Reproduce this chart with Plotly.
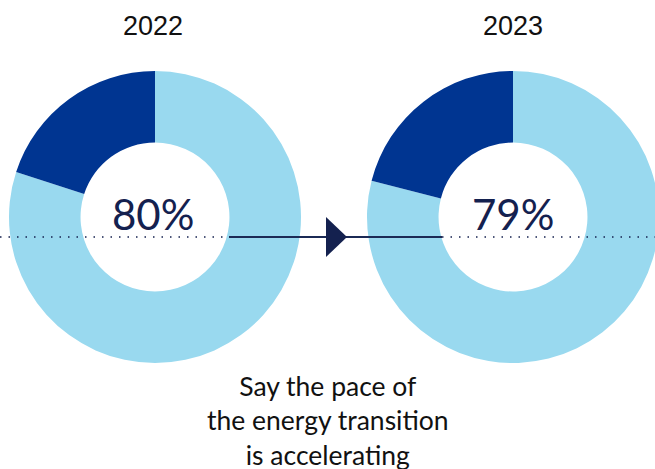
import plotly.graph_objects as go

years = ["2022", "2023"]
labels = ["Say the pace of the energy transition is accelerating", "Other"]
accelerating = [80, 79]
other = [20, 21]
center_text = ["80%", "79%"]
caption = "Say the pace of<br>the energy transition<br>is accelerating"

LIGHT = "#99D9EF"
DARK = "#003591"
NAVY = "#14214F"

W, H = 664, 469

def px(x):
    return x / W

def py(y):
    return 1 - y / H

# pie domains (window pixel boxes: x0, x1, ytop, ybottom)
boxes = [(9, 301, 71, 363), (367, 659, 71, 363)]

fig = go.Figure()
for i, yr in enumerate(years):
    x0, x1, y0, y1 = boxes[i]
    fig.add_trace(go.Pie(
        labels=labels,
        values=[accelerating[i], other[i]],
        hole=0.51,
        sort=False,
        direction="clockwise",
        rotation=0,
        marker=dict(colors=[LIGHT, DARK], line=dict(width=0)),
        textinfo="none",
        hoverinfo="label+percent",
        showlegend=False,
        domain=dict(x=[px(x0), px(x1)], y=[py(y1), py(y0)]),
        name=yr,
    ))

label_x = [153, 513]
for i, yr in enumerate(years):
    fig.add_annotation(x=px(label_x[i]), y=py(26), xref="paper", yref="paper",
                       xanchor="center", yanchor="middle",
                       text=yr, showarrow=False,
                       font=dict(family="Liberation Sans", size=27, color="#111111"))
    fig.add_annotation(x=px(label_x[i]), y=py(214), xref="paper", yref="paper",
                       xanchor="center", yanchor="middle",
                       text=center_text[i], showarrow=False,
                       font=dict(family="Lato", size=42, color=NAVY))

fig.add_annotation(x=px(328), y=py(420), xref="paper", yref="paper",
                   xanchor="center", yanchor="middle",
                   text=caption, showarrow=False, align="center",
                   font=dict(family="Lato", size=26.5, color="#111111"))

# dotted guide line (drawn over the rings)
fig.add_shape(type="line", xref="paper", yref="paper", layer="above",
              x0=0, x1=1, y0=py(237), y1=py(237),
              line=dict(color=NAVY, width=1.5, dash="1.5px,7px"))
# solid connector
fig.add_shape(type="line", xref="paper", yref="paper", layer="above",
              x0=px(229), x1=px(442), y0=py(237), y1=py(237),
              line=dict(color="#1B2A55", width=2))
# arrow head
fig.add_shape(type="path", xref="paper", yref="paper", layer="above",
              path=f"M {px(326)} {py(217)} L {px(347)} {py(237)} L {px(326)} {py(257)} Z",
              fillcolor=NAVY, line=dict(width=0))

fig.update_layout(width=W, height=H, margin=dict(l=0, r=0, t=0, b=0),
                  paper_bgcolor="white", plot_bgcolor="white",
                  xaxis=dict(visible=False), yaxis=dict(visible=False))
fig.write_html("out.html", config={"displayModeBar": False},
               post_script="document.body.style.margin='0';document.body.style.overflow='hidden';")
